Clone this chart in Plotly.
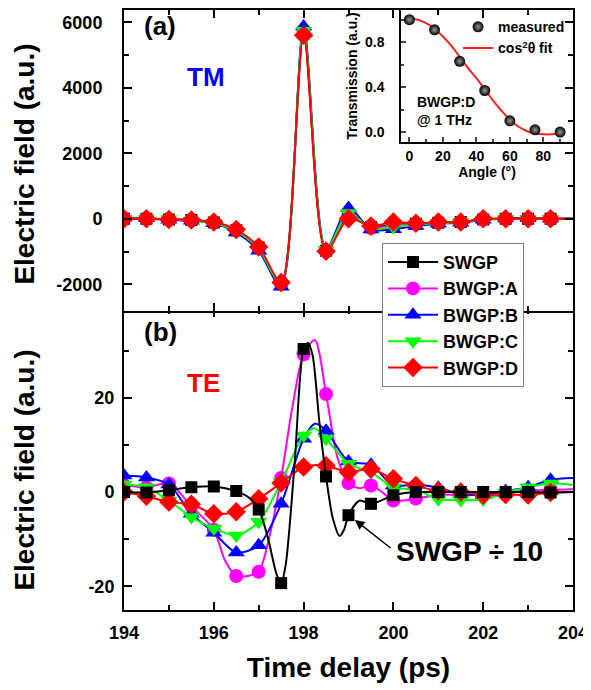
import plotly.graph_objects as go

# TIME AXIS OF THE SAMPLED POINTS (ps)
time_marks = [194.0, 194.5, 195.0, 195.5, 196.0, 196.5, 197.0, 197.5, 198.0, 198.5,
              199.0, 199.5, 200.0, 200.5, 201.0, 201.5, 202.0, 202.5, 203.0, 203.5]

# (a) TM ELECTRIC FIELD
tm_swgp = [0, 0, -20, -40, -110, -350, -880, -1980, 5700, -980,
           100, -250, -180, -150, -120, -100, -20, 0, 0, 0]
tm_a = [10, 0, -20, -40, -110, -360, -900, -2000, 5750, -1000,
        150, -280, -200, -160, -120, -100, -20, 0, 0, 0]
tm_b = [30, 20, -30, -60, -140, -420, -980, -2080, 5880, -930,
        330, -330, -320, -220, -150, -120, -30, 10, 20, 0]
tm_c = [10, 10, -10, -60, -130, -380, -920, -2000, 5750, -950,
        180, -300, -250, -180, -130, -100, -20, 0, 0, 0]
tm_d = [0, 0, -20, -40, -100, -330, -860, -1950, 5610, -990,
        0, -220, -100, -140, -100, -100, 0, 0, 0, 0]
tm_end = [0, 0, 0, 0, 0]  # value of each curve at 204 ps

# (b) TE ELECTRIC FIELD (SWGP DIVIDED BY 10)
te_swgp = [0, -0.1, 0.4, 1.0, 1.2, 0.2, -3.7, -19.3, 30.3, 3.3,
           -4.9, -2.5, -0.7, 0, 0, 0, 0, 0, 0, -0.1]
te_a = [1.5, 1.0, 1.8, -3.0, -8.0, -17.8, -16.9, 3.0, 29.2, 20.8,
        1.9, 1.4, -1.8, -1.4, -0.6, -0.6, -0.5, -0.2, 0.3, 0.5]
te_b = [3.5, 3.1, 1.6, -4.6, -8.6, -12.8, -11.3, -2.5, 11.3, 13.0,
        6.5, 5.8, 1.4, 1.6, 0.9, -0.4, -0.6, 0.2, 1.0, 2.6]
te_c = [1.6, 1.0, -1.8, -5.3, -7.7, -9.2, -6.3, 2.1, 12.0, 11.3,
        6.0, 4.2, 1.0, 0.5, -1.5, -1.7, -1.6, -0.2, 1.0, 1.8]
te_d = [0.0, -0.9, -2.1, -2.6, -4.6, -4.2, -1.4, 1.9, 5.3, 5.6,
        4.2, 4.9, 2.8, 1.4, 0.2, 0.0, -0.6, -0.5, -0.6, -0.1]

# EXTRA POINTS OF THE DRAWN TE CURVES BETWEEN THE MARKERS
swgp_curve_t = [194, 194.5, 195, 195.5, 196, 196.5, 196.8, 197, 197.2, 197.4, 197.5, 197.6,
                197.8, 198, 198.1, 198.2, 198.35, 198.5, 198.65, 198.8, 198.9, 199, 199.25,
                199.5, 200, 200.5, 201, 201.5, 202, 202.5, 203, 203.5, 204]
swgp_curve_e = [0, -0.1, 0.4, 1.0, 1.2, 0.2, -1.3, -3.7, -9.5, -17.5, -19.3, -15.5,
                6.0, 30.3, 31.6, 29.0, 15.0, 3.3, -5.5, -9.3, -8.0, -4.9, -1.8,
                -2.5, -0.7, 0, 0, 0, 0, 0, 0, -0.1, 0]
a_curve_t = [194, 194.5, 195, 195.5, 196, 196.25, 196.5, 196.75, 197, 197.25, 197.5, 197.75,
             198, 198.25, 198.5, 198.75, 199, 199.25, 199.5, 199.75, 200, 200.5, 201, 201.5,
             202, 202.5, 203, 203.5, 204]
a_curve_e = [1.5, 1.0, 1.8, -3.0, -8.0, -14.5, -17.8, -17.8, -16.9, -9.0, 3.0, 18.0,
             29.2, 32.2, 20.8, 7.5, 1.9, 0.8, 1.4, 0.0, -1.8, -1.4, -0.6, -0.6,
             -0.5, -0.2, 0.3, 0.5, 0.6]
b_extra_t, b_extra_e = [198.25, 204], [14.5, 3.0]
c_extra_t, c_extra_e = [198.25, 204], [13.5, 1.5]
d_extra_t, d_extra_e = [204], [0.0]

# INSET: TRANSMISSION VS ANGLE
angle = [0, 15, 30, 45, 60, 75, 90]
transmission = [1.0, 0.91, 0.63, 0.37, 0.10, 0.02, 0.0]
fit_angle = [0, 5, 10, 15, 20, 25, 30, 35, 40, 45, 50, 55, 60, 65, 70, 75, 80, 85, 90]
fit_trans = [1.01, 1.0, 0.97, 0.92, 0.85, 0.77, 0.67, 0.57, 0.48, 0.38,
             0.28, 0.19, 0.11, 0.05, 0.01, -0.01, -0.02, -0.02, -0.01]

# TICK LABELS (PLAIN HYPHEN AS IN THE ORIGINAL)
tm_ticks = [-2000, 0, 2000, 4000, 6000]
tm_ticktext = ['-2000', '0', '2000', '4000', '6000']
te_ticks = [-20, 0, 20]
te_ticktext = ['-20', '0', '20']

names = ['SWGP', 'BWGP:A', 'BWGP:B', 'BWGP:C', 'BWGP:D']
colors = ['#000000', '#FF00FF', '#0000FF', '#00FF00', '#FF0000']
symbols = ['square', 'circle', 'triangle-up', 'triangle-down', 'diamond']
sizes = [12, 14, 15, 15, 15]

FONT = 'Liberation Sans'

fig = go.Figure()


def merge(t1, e1, t2, e2):
    pts = sorted(zip(list(t1) + list(t2), list(e1) + list(e2)))
    return [p[0] for p in pts], [p[1] for p in pts]


def add_series(i, line_t, line_e, mark_t, mark_e, xa, ya):
    fig.add_trace(go.Scatter(x=line_t, y=line_e, mode='lines', xaxis=xa, yaxis=ya,
                             line=dict(color=colors[i], width=2, shape='spline', smoothing=0.8),
                             showlegend=False, hoverinfo='skip'))
    fig.add_trace(go.Scatter(x=mark_t, y=mark_e, mode='markers', xaxis=xa, yaxis=ya,
                             marker=dict(color=colors[i], symbol=symbols[i], size=sizes[i]),
                             showlegend=False, name=names[i]))


# TOP PANEL (TM)
tm_all = [tm_swgp, tm_a, tm_b, tm_c, tm_d]
for i, vals in enumerate(tm_all):
    lt, le = merge(time_marks, vals, [204], [tm_end[i]])
    add_series(i, lt, le, time_marks, vals, 'x2', 'y2')

# BOTTOM PANEL (TE) - SWGP DRAWN LAST
b_t, b_e = merge(time_marks, te_b, b_extra_t, b_extra_e)
c_t, c_e = merge(time_marks, te_c, c_extra_t, c_extra_e)
d_t, d_e = merge(time_marks, te_d, d_extra_t, d_extra_e)
add_series(1, a_curve_t, a_curve_e, time_marks, te_a, 'x', 'y')
add_series(2, b_t, b_e, time_marks, te_b, 'x', 'y')
add_series(3, c_t, c_e, time_marks, te_c, 'x', 'y')
add_series(4, d_t, d_e, time_marks, te_d, 'x', 'y')
add_series(0, swgp_curve_t, swgp_curve_e, time_marks, te_swgp, 'x', 'y')

# LEGEND ENTRIES
for i in range(5):
    fig.add_trace(go.Scatter(x=[None], y=[None], mode='lines+markers', name=names[i],
                             line=dict(color=colors[i], width=2),
                             marker=dict(color=colors[i], symbol=symbols[i], size=sizes[i])))

# INSET
fig.add_trace(go.Scatter(x=fit_angle, y=fit_trans, mode='lines', name='cos<sup>2</sup>θ fit',
                         xaxis='x3', yaxis='y3', legend='legend2',
                         line=dict(color='#FF2020', width=2, shape='spline')))
fig.add_trace(go.Scatter(x=angle, y=transmission, mode='markers', name='measured',
                         xaxis='x3', yaxis='y3', legend='legend2',
                         marker=dict(color='#000000', size=11,
                                     gradient=dict(type='radial', color='#9a9a9a'))))

axis_common = dict(showline=True, linecolor='black', linewidth=2, mirror='allticks',
                   ticks='inside', ticklen=8, tickwidth=2, tickcolor='black',
                   showgrid=False, zeroline=False,
                   tickfont=dict(size=18, weight='bold'))
minor_common = dict(ticks='inside', ticklen=5, tickwidth=2, tickcolor='black')

# PANELS SHARE ONE BORDER LINE
split = 0.4992
half_line = 0.00166

fig.update_layout(
    width=591, height=690,
    margin=dict(l=116, r=26, t=0, b=88),
    paper_bgcolor='white', plot_bgcolor='white',
    font=dict(family=FONT, color='black', weight='bold'),
    xaxis=dict(axis_common, range=[194, 204], anchor='y', dtick=2, tick0=194,
               minor=dict(minor_common, dtick=1), ticklabelstandoff=5,
               title=dict(text='Time delay (ps)', font=dict(size=28, weight='bold'), standoff=16)),
    xaxis2=dict(axis_common, range=[194, 204], anchor='y2', matches='x', dtick=2, tick0=194,
                minor=dict(minor_common, dtick=1), showticklabels=False),
    yaxis=dict(axis_common, range=[-25, 38.7], domain=[0, split + half_line], anchor='x',
               tickvals=te_ticks, ticktext=te_ticktext, ticklabelstandoff=4,
               minor=dict(minor_common, dtick=10, tick0=0)),
    yaxis2=dict(axis_common, range=[-2833, 6381], domain=[split - half_line, 1], anchor='x2',
                tickvals=tm_ticks, ticktext=tm_ticktext, ticklabelstandoff=16,
                minor=dict(minor_common, dtick=1000, tick0=0)),
    xaxis3=dict(range=[-5, 97.7], domain=[0.617, 1], anchor='y3', dtick=20, tick0=0,
                showline=True, linecolor='black', linewidth=1.5, mirror=True,
                ticks='inside', ticklen=5, tickwidth=1.5, showgrid=False, zeroline=False,
                minor=dict(dtick=10, ticks='inside', ticklen=3, tickwidth=1.5),
                tickfont=dict(size=14, weight='bold'), ticklabelstandoff=0,
                title=dict(text='Angle (°)', font=dict(size=14, weight='bold'), standoff=2)),
    yaxis3=dict(range=[-0.088, 1.086], domain=[0.78, 1], anchor='x3', dtick=0.4, tick0=0,
                tickformat='.1f',
                showline=True, linecolor='black', linewidth=1.5, mirror=True,
                ticks='inside', ticklen=5, tickwidth=1.5, showgrid=False, zeroline=False,
                minor=dict(dtick=0.2, ticks='inside', ticklen=3, tickwidth=1.5),
                tickfont=dict(size=14, weight='bold'), ticklabelstandoff=12,
                title=dict(text='Transmission (a.u.)', font=dict(size=14, weight='bold'),
                           standoff=4)),
    legend=dict(x=0.5746, y=0.612, xanchor='left', yanchor='top',
                bgcolor='white', bordercolor='#808080', borderwidth=1,
                font=dict(size=18, weight='bold'), itemwidth=50, tracegroupgap=0),
    legend2=dict(x=0.744, y=0.998, xanchor='left', yanchor='top',
                 bgcolor='rgba(0,0,0,0)', borderwidth=0, traceorder='reversed',
                 font=dict(size=14, weight='bold'), itemwidth=30),
    showlegend=True,
)

annotations = [
    dict(text='(a)', x=0.081, y=0.973, font=dict(size=26)),
    dict(text='TM', x=0.183, y=0.889, font=dict(size=26, color='#0000FF')),
    dict(text='(b)', x=0.081, y=0.464, font=dict(size=26)),
    dict(text='TE', x=0.176, y=0.378, font=dict(size=26, color='#FF0000')),
    # Y AXIS TITLES OF BOTH PANELS
    dict(text='Electric field (a.u.)', x=-0.2205, y=0.744, textangle=-90, font=dict(size=28)),
    dict(text='Electric field (a.u.)', x=-0.2205, y=0.234, textangle=-90, font=dict(size=28)),
]
for a in annotations:
    fig.add_annotation(xref='paper', yref='paper', xanchor='center', yanchor='middle',
                       showarrow=False, **a)

# INSET LABEL
fig.add_annotation(text='BWGP:D<br>@ 1 THz', x=3.4, y=0.19, xref='x3', yref='y3',
                   xanchor='left', yanchor='middle', align='left', showarrow=False,
                   font=dict(size=14))

# SWGP / 10 NOTE WITH ARROW
fig.add_annotation(x=199.14, y=-5.9, ax=199.97, ay=-12.1, xref='x', yref='y',
                   axref='x', ayref='y', text='', showarrow=True,
                   arrowhead=2, arrowsize=1.3, arrowwidth=1.5, arrowcolor='black')
fig.add_annotation(text='SWGP ÷ 10', x=201.7, y=-12.7, xref='x', yref='y', showarrow=False,
                   xanchor='center', yanchor='middle', font=dict(size=28, weight='bold'))

fig.write_html('out.html')
